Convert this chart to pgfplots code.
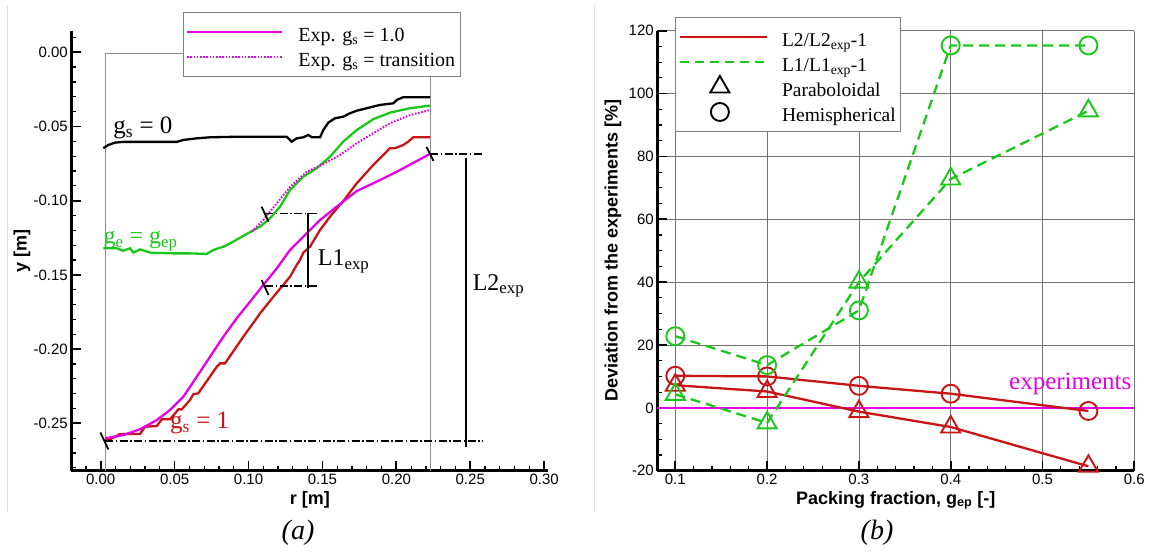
\documentclass[border=0pt]{standalone}
\usepackage{fontspec}
\setmainfont{Liberation Serif}
\setsansfont{Liberation Sans}
\usepackage{pgfplots}
\pgfplotsset{compat=1.18}

\definecolor{cgreen}{RGB}{25,200,25}
\definecolor{cred}{RGB}{200,20,20}
\definecolor{cmag}{RGB}{230,0,230}

\pgfplotsset{
 tecplot/.style={
  scale only axis, anchor=south west,
  axis x line*=bottom, axis y line*=left,
  axis line style={-, line width=2.5pt, black},
  every major tick/.append style={black, line width=1.7pt},
  every minor tick/.append style={black, line width=1.2pt},
  major tick length=10pt, minor tick length=5pt,
  tick align=inside,
  /pgf/number format/assume math mode=true,
  tick label style={font=\fontsize{15}{18}\selectfont\sffamily},
  label style={font=\fontsize{18}{22}\selectfont\sffamily\bfseries},
  enlargelimits=false, clip=false,
 },
 legline95/.style={legend image code/.code={\draw[##1] (0pt,0pt) -- (95pt,0pt);}},
 legline87/.style={legend image code/.code={\draw[##1] (0pt,0pt) -- (87pt,0pt);}},
 legmark/.style={legend image code/.code={\draw[##1] plot coordinates {(40pt,0pt)};}},
}

\begin{document}
\begin{tikzpicture}[x=1pt,y=1pt]
\useasboundingbox (0,0) rectangle (1152,554);
\draw[black!12, line width=0.8pt] (7,42) -- (7,549);
\draw[black!12, line width=0.8pt] (594.3,42) -- (594.3,549);

% ---------------- (a) ----------------
\begin{axis}[tecplot, at={(71.3pt,83.3pt)}, width=477pt, height=439.7pt,
 xmin=-0.0199, xmax=0.3028, ymin=-0.2819, ymax=0.0143,
 xtick={0,0.05,0.1,0.15,0.2,0.25,0.3},
 minor xtick={-0.01,0.01,0.02,0.03,0.04,0.06,0.07,0.08,0.09,0.11,0.12,0.13,0.14,0.16,0.17,0.18,0.19,0.21,0.22,0.23,0.24,0.26,0.27,0.28,0.29},
 ytick={-0.25,-0.2,-0.15,-0.1,-0.05,0},
 minor ytick={-0.28,-0.27,-0.26,-0.24,-0.23,-0.22,-0.21,-0.19,-0.18,-0.17,-0.16,-0.14,-0.13,-0.12,-0.11,-0.09,-0.08,-0.07,-0.06,-0.04,-0.03,-0.02,-0.01,0.01},
 xticklabel style={/pgf/number format/.cd, fixed, fixed zerofill, precision=2},
 yticklabel style={/pgf/number format/.cd, fixed, fixed zerofill, precision=2},
 xlabel={r [m]}, ylabel={y [m]},
 xlabel style={at={(rel axis cs:0.5,-0.076)}, anchor=base},
 ylabel style={at={(rel axis cs:-0.1034,0.5)}, anchor=center},
 legend style={at={(rel axis cs:0.2335,1.0425)}, anchor=north west,
   draw=black!50, line width=0.9pt, fill=white,
   font=\fontsize{20}{24}\selectfont, inner xsep=3pt, inner ysep=3pt,
   nodes={inner sep=2pt, text height=24pt, text depth=5pt},
   row sep=-8pt, column sep=13pt},
 legend cell align=left,
 legline95,
]
% gray frame of the domain
\addplot[black!45, line width=0.8pt, forget plot] coordinates {(0.003,-0.2819) (0.003,-0.001) (0.2228,-0.001) (0.2228,-0.2819)};

% g_s = 0
\addplot[black, line width=2.3pt, forget plot] coordinates {
(0.0018,-0.0647) (0.0051,-0.0625) (0.0097,-0.0609) (0.0153,-0.0604) (0.0379,-0.0604) (0.0514,-0.0604) (0.0559,-0.0591) (0.0650,-0.0580) (0.0740,-0.0573) (0.0942,-0.0569) (0.1258,-0.0569) (0.1292,-0.0602) (0.1326,-0.0580) (0.1371,-0.0573) (0.1405,-0.0557) (0.1428,-0.0573) (0.1484,-0.0573) (0.1506,-0.0524) (0.1540,-0.0474) (0.1585,-0.0445) (0.1641,-0.0434) (0.1687,-0.0411) (0.1732,-0.0394) (0.1800,-0.0377) (0.1890,-0.0355) (0.1980,-0.0344) (0.2003,-0.0321) (0.2047,-0.0303) (0.2228,-0.0303)};

% g_e = g_ep
\addplot[cgreen, line width=2.3pt, forget plot] coordinates {
(0.0018,-0.1321) (0.0108,-0.1321) (0.0153,-0.1337) (0.0198,-0.1321) (0.0221,-0.1350) (0.0266,-0.1328) (0.0334,-0.1350) (0.0491,-0.1355) (0.0604,-0.1355) (0.0717,-0.1359) (0.0762,-0.1332) (0.0830,-0.1310) (0.0897,-0.1276) (0.0988,-0.1224) (0.1078,-0.1175) (0.1145,-0.1119) (0.1213,-0.1040) (0.1281,-0.0928) (0.1371,-0.0838) (0.1461,-0.0782) (0.1551,-0.0704) (0.1641,-0.0602) (0.1732,-0.0524) (0.1844,-0.0451) (0.1957,-0.0407) (0.2093,-0.0377) (0.2228,-0.0360)};

% g_s = 1
\addplot[cred, line width=2.3pt, forget plot] coordinates {
(0.0029,-0.2613) (0.0063,-0.2608) (0.0131,-0.2572) (0.0266,-0.2572) (0.0300,-0.2523) (0.0379,-0.2518) (0.0413,-0.2473) (0.0469,-0.2473) (0.0503,-0.2433) (0.0525,-0.2406) (0.0548,-0.2406) (0.0604,-0.2343) (0.0627,-0.2303) (0.0660,-0.2298) (0.0785,-0.2119) (0.0807,-0.2096) (0.0841,-0.2096) (0.0965,-0.1916) (0.1055,-0.1792) (0.1078,-0.1759) (0.1168,-0.1647) (0.1281,-0.1512) (0.1326,-0.1433) (0.1348,-0.1400) (0.1371,-0.1350) (0.1416,-0.1310) (0.1484,-0.1197) (0.1551,-0.1108) (0.1608,-0.1040) (0.1641,-0.1003) (0.1732,-0.0883) (0.1844,-0.0759) (0.1957,-0.0647) (0.1991,-0.0647) (0.2047,-0.0625) (0.2081,-0.0602) (0.2115,-0.0573) (0.2228,-0.0573)};

% Exp. g_s = 1.0
\addplot[cmag, line width=2.3pt] coordinates {
(0.0029,-0.2601) (0.0153,-0.2579) (0.0266,-0.2540) (0.0379,-0.2478) (0.0469,-0.2410) (0.0559,-0.2321) (0.0650,-0.2186) (0.0740,-0.2051) (0.0830,-0.1916) (0.0920,-0.1792) (0.1010,-0.1681) (0.1100,-0.1568) (0.1191,-0.1456) (0.1281,-0.1332) (0.1371,-0.1243) (0.1484,-0.1130) (0.1619,-0.1023) (0.1732,-0.0935) (0.1867,-0.0872) (0.2003,-0.0805) (0.2228,-0.0685)};
\addlegendentry{Exp. g\textsubscript{s} = 1.0}

% Exp. g_s = transition
\addplot[cmag, line width=2pt, dash pattern=on 1.6pt off 1.6pt] coordinates {
(0.1022,-0.1209) (0.1100,-0.1130) (0.1191,-0.1018) (0.1281,-0.0906) (0.1394,-0.0805) (0.1506,-0.0753) (0.1619,-0.0692) (0.1732,-0.0613) (0.1844,-0.0546) (0.1957,-0.0478) (0.2093,-0.0423) (0.2228,-0.0389)};
\addlegendentry{Exp. g\textsubscript{s} = transition}

% dimension lines
\addplot[black, line width=1.5pt, dash pattern=on 8pt off 2.5pt on 1.5pt off 2.5pt, forget plot] coordinates {(0.003,-0.2619) (0.2583,-0.2619)};
\addplot[black, line width=1.5pt, dash pattern=on 8pt off 2.5pt on 1.5pt off 2.5pt, forget plot] coordinates {(0.2228,-0.0685) (0.2583,-0.0685)};
\addplot[black, line width=1.5pt, dash pattern=on 8pt off 2.5pt on 1.5pt off 2.5pt, forget plot] coordinates {(0.1112,-0.1085) (0.1462,-0.1085)};
\addplot[black, line width=1.5pt, dash pattern=on 8pt off 2.5pt on 1.5pt off 2.5pt, forget plot] coordinates {(0.1112,-0.1575) (0.1462,-0.1575)};
\addplot[black, line width=2.2pt, forget plot] coordinates {(0.2472,-0.0712) (0.2472,-0.2658)};
\addplot[black, line width=1.8pt, forget plot] coordinates {(0.1400,-0.1081) (0.1400,-0.1590)};
\draw[black, line width=1.8pt] (axis cs:0.0025,-0.2619) ++(-4pt,8.5pt) -- ++(8pt,-17pt);
\draw[black, line width=1.8pt] (axis cs:0.2228,-0.0685) ++(-3.5pt,7pt) -- ++(7pt,-14pt);
\draw[black, line width=1.8pt] (axis cs:0.1112,-0.1091) ++(-3.5pt,7.5pt) -- ++(7pt,-15pt);
\draw[black, line width=1.8pt] (axis cs:0.1112,-0.1585) ++(-3.5pt,7.5pt) -- ++(7pt,-15pt);

% annotations
\node[anchor=base west, font=\fontsize{25}{29}\selectfont, inner sep=0pt] at (axis cs:0.0085,-0.0546) {g\textsubscript{s} = 0};
\node[anchor=base west, font=\fontsize{24}{28}\selectfont, inner sep=0pt, text=cgreen] at (axis cs:0.0018,-0.1287) {g\textsubscript{e} = g\textsubscript{ep}};
\node[anchor=base west, font=\fontsize{25}{29}\selectfont, inner sep=0pt, text=cred] at (axis cs:0.0469,-0.2534) {g\textsubscript{s} = 1};
\node[anchor=base west, font=\fontsize{24}{28}\selectfont, inner sep=0pt] at (axis cs:0.1468,-0.1440) {L1\textsubscript{exp}};
\node[anchor=base west, font=\fontsize{24}{28}\selectfont, inner sep=0pt] at (axis cs:0.2516,-0.1602) {L2\textsubscript{exp}};
\end{axis}

% ---------------- (b) ----------------
\begin{axis}[tecplot, at={(657.3pt,83.3pt)}, width=477pt, height=440pt,
 xmin=0.0804, xmax=0.6, ymin=-20, ymax=120,
 xtick={0.1,0.2,0.3,0.4,0.5,0.6}, minor x tick num=4,
 ytick={-20,0,20,40,60,80,100,120}, minor y tick num=3,
 grid=major, grid style={black!55, line width=0.8pt},
 xticklabel style={/pgf/number format/.cd, fixed, precision=1},
 xlabel={Packing fraction, g\textsubscript{ep} [-]},
 ylabel={Deviation from the experiments [\%]},
 xlabel style={at={(rel axis cs:0.5,-0.076)}, anchor=base},
 ylabel style={at={(rel axis cs:-0.0929,0.5)}, anchor=center},
 legend style={at={(rel axis cs:0.0377,1.0305)}, anchor=north west,
   draw=black!50, line width=0.9pt, fill=white,
   font=\fontsize{19.5}{23}\selectfont, inner xsep=3pt, inner ysep=3pt,
   nodes={inner sep=2pt, text height=23.5pt, text depth=5pt},
   row sep=-7.5pt, column sep=12pt},
 legend cell align=left,
]
\addlegendimage{cred, line width=2.3pt, legline87}
\addlegendentry{L2/L2\textsubscript{exp}-1}
\addlegendimage{cgreen, line width=2.3pt, dash pattern=on 9pt off 6pt, legline87}
\addlegendentry{L1/L1\textsubscript{exp}-1}
\addlegendimage{black, mark=triangle, mark size=11pt, line width=1.9pt, legmark}
\addlegendentry{Paraboloidal}
\addlegendimage{black, mark=o, mark size=9pt, line width=1.9pt, legmark}
\addlegendentry{Hemispherical}

\addplot[cmag, line width=2.3pt, forget plot] coordinates {(0.0804,0) (0.6,0)};

% L2 / hemispherical
\addplot[cred, line width=2.3pt, mark=o, mark size=9pt, mark options={solid, line width=1.9pt}, forget plot] coordinates {
(0.1,10.2) (0.2,10.0) (0.3,7.0) (0.4,4.5) (0.55,-1.0)};
% L2 / paraboloidal
\addplot[cred, line width=2.3pt, mark=triangle, mark size=11pt, mark options={solid, line width=1.9pt}, forget plot] coordinates {
(0.1,7.2) (0.2,5.2) (0.3,-1.2) (0.4,-6.1) (0.55,-18.6)};
% L1 / hemispherical
\addplot[cgreen, line width=2.3pt, dash pattern=on 10pt off 6pt, mark=o, mark size=9pt, mark options={solid, line width=1.9pt}, forget plot] coordinates {
(0.1,22.8) (0.2,13.6) (0.3,31.0) (0.4,115.3) (0.55,115.3)};
% L1 / paraboloidal
\addplot[cgreen, line width=2.3pt, dash pattern=on 10pt off 6pt, mark=triangle, mark size=11pt, mark options={solid, line width=1.9pt}, forget plot] coordinates {
(0.1,4.3) (0.2,-4.8) (0.3,40.0) (0.4,72.8) (0.55,94.5)};

\node[anchor=base east, font=\fontsize{25}{30}\selectfont, inner sep=0pt, text=cmag] at (axis cs:0.597,5.8) {experiments};
\end{axis}

\node[font=\fontsize{28}{32}\selectfont\itshape] at (298,21) {(a)};
\node[font=\fontsize{28}{32}\selectfont\itshape] at (877,21) {(b)};
\end{tikzpicture}
\end{document}
